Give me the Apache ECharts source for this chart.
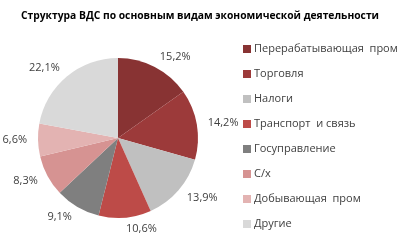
<!DOCTYPE html>
<html>
<head>
<meta charset="utf-8">
<script src="https://cdn.jsdelivr.net/npm/echarts@6/dist/echarts.min.js"></script>
<style>
html,body{margin:0;padding:0;background:#fff;}
#chart{width:400px;height:248px;}
</style>
</head>
<body>
<div id="chart"></div>
<script>
// доли отраслей в ВДС
var categories = ['Перерабатывающая  пром', 'Торговля', 'Налоги', 'Транспорт  и связь',
    'Госуправление', 'С/х', 'Добывающая  пром', 'Другие'];
var shares = [15.2, 14.2, 13.9, 10.6, 9.1, 8.3, 6.6, 22.1];
var colors = ['#883333', '#9c3a3a', '#c0c0c0', '#bd4b48', '#7f7f7f', '#d69392', '#e3b3b2', '#d9d9d9'];

var pieData = [];
for (var i = 0; i < categories.length; i++) {
    pieData.push({ name: categories[i], value: shares[i], itemStyle: { color: colors[i] } });
}

var myChart = echarts.init(document.getElementById('chart'));
var option = {
    animation: false,
    title: {
        text: 'Структура ВДС по основным видам экономической деятельности',
        left: 'center',
        top: 6,
        textStyle: { fontFamily: 'Open Sans', fontWeight: 'bold', fontSize: 10.3, color: '#000' }
    },
    legend: {
        orient: 'vertical',
        left: 238,
        top: 37,
        itemWidth: 8,
        itemHeight: 8,
        itemGap: 11,
        icon: 'rect',
        textStyle: { fontFamily: 'Open Sans', fontSize: 11, color: '#404040', lineHeight: 14, padding: [0, 0, 0, -2] },
        data: categories
    },
    series: [
        {
            type: 'pie',
            center: [118, 138],
            radius: 80,
            startAngle: 90,
            clockwise: true,
            avoidLabelOverlap: false,
            label: {
                show: true,
                position: 'outside',
                distanceToLabelLine: 0,
                fontFamily: 'Open Sans',
                fontSize: 11,
                color: '#404040',
                formatter: function (p) { return p.value.toFixed(1).replace('.', ',') + '%'; }
            },
            labelLine: { show: false, length: 11, length2: 0 },
            emphasis: { disabled: true },
            data: pieData
        }
    ]
};
myChart.setOption(option);
</script>
</body>
</html>
